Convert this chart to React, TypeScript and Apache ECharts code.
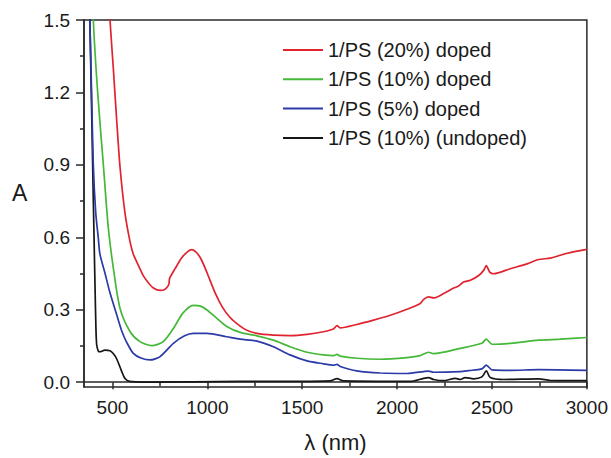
import React, { useEffect, useRef } from "react";
import * as echarts from "echarts";

const seriesNames = [
  "1/PS (20%) doped",
  "1/PS (10%) doped",
  "1/PS (5%) doped",
  "1/PS (10%) (undoped)",
];
const seriesColors = ["#e0232e", "#45b83a", "#2b3aa6", "#161616"];

const red: [number, number][] = [
  [470, 1.75], [487, 1.5], [505, 1.294], [522, 1.088], [540, 0.89], [566, 0.7],
  [593, 0.58], [610, 0.53], [636, 0.485], [663, 0.44], [689, 0.412], [716, 0.39],
  [751, 0.38], [775, 0.384], [790, 0.395], [798, 0.408], [801, 0.43], [830, 0.47],
  [865, 0.515], [895, 0.54], [918, 0.549], [945, 0.535], [970, 0.505], [1000, 0.45],
  [1041, 0.37], [1080, 0.31], [1120, 0.268], [1173, 0.232], [1208, 0.215], [1261, 0.202],
  [1348, 0.195], [1436, 0.193], [1525, 0.198], [1612, 0.209], [1665, 0.22], [1683, 0.234],
  [1700, 0.225], [1788, 0.239], [1876, 0.257], [1964, 0.277], [2052, 0.302], [2122, 0.326],
  [2140, 0.343], [2166, 0.353], [2192, 0.349], [2245, 0.367], [2298, 0.39], [2324, 0.398],
  [2350, 0.415], [2386, 0.422], [2430, 0.442], [2456, 0.463], [2470, 0.483], [2488, 0.456],
  [2509, 0.449], [2597, 0.47], [2685, 0.49], [2746, 0.508], [2808, 0.514], [2896, 0.534],
  [3000, 0.55],
];

const green: [number, number][] = [
  [390, 1.75], [399, 1.5], [422, 1.2], [452, 0.9], [478, 0.64], [505, 0.47],
  [540, 0.305], [593, 0.209], [645, 0.168], [707, 0.151], [768, 0.168], [821, 0.222],
  [870, 0.285], [926, 0.318], [960, 0.316], [1000, 0.298], [1050, 0.264], [1100, 0.232],
  [1173, 0.206], [1261, 0.192], [1348, 0.174], [1436, 0.147], [1525, 0.124], [1612, 0.113],
  [1665, 0.11], [1683, 0.115], [1700, 0.108], [1788, 0.099], [1911, 0.095], [2052, 0.102],
  [2122, 0.11], [2166, 0.124], [2192, 0.118], [2333, 0.14], [2447, 0.161], [2470, 0.178],
  [2500, 0.157], [2597, 0.161], [2746, 0.174], [2860, 0.178], [3000, 0.185],
];

const blue: [number, number][] = [
  [376, 1.8], [381, 1.5], [390, 1.2], [399, 0.9], [412, 0.7], [425, 0.6],
  [434, 0.53], [461, 0.45], [487, 0.37], [522, 0.28], [550, 0.21], [575, 0.165],
  [610, 0.119], [650, 0.1], [698, 0.092], [751, 0.106], [821, 0.161], [880, 0.192],
  [926, 0.202], [997, 0.202], [1102, 0.188], [1173, 0.178], [1261, 0.17], [1348, 0.147],
  [1436, 0.113], [1525, 0.088], [1612, 0.076], [1665, 0.07], [1683, 0.074], [1700, 0.065],
  [1788, 0.047], [1911, 0.038], [2052, 0.036], [2140, 0.044], [2166, 0.046], [2192, 0.041],
  [2333, 0.044], [2377, 0.048], [2447, 0.055], [2470, 0.071], [2500, 0.051], [2597, 0.049],
  [2746, 0.052], [3000, 0.049],
];

const black: [number, number][] = [
  [372, 1.8], [381, 1.5], [399, 0.758], [408, 0.4], [413, 0.22], [417, 0.154],
  [426, 0.128], [434, 0.126], [460, 0.133], [487, 0.13], [505, 0.118], [522, 0.097],
  [549, 0.044], [566, 0.015], [590, 0.003], [680, 0.0], [1173, 0.003], [1436, 0.003],
  [1647, 0.005], [1683, 0.015], [1717, 0.005], [2069, 0.003], [2140, 0.016], [2166, 0.019],
  [2192, 0.011], [2245, 0.006], [2307, 0.016], [2333, 0.011], [2359, 0.019], [2403, 0.014],
  [2447, 0.022], [2470, 0.047], [2491, 0.019], [2562, 0.011], [2746, 0.014], [2808, 0.007],
  [3000, 0.006],
];

const xMajorTicks = [500, 1000, 1500, 2000, 2500, 3000];
const xMinorTicks = [750, 1250, 1750, 2250, 2750];
const yMajorTicks = [0, 0.3, 0.6, 0.9, 1.2, 1.5];
const yMinorTicks = [0.15, 0.45, 0.75, 1.05, 1.35];

const FONT = "'Liberation Sans', Arial, sans-serif";
const AXIS_COLOR = "#2a2a2a";

export default function App() {
  const ref = useRef<HTMLDivElement>(null);
  useEffect(() => {
    if (!ref.current) return;
    const chart = echarts.init(ref.current, undefined, { renderer: "svg" });
    const allData = [red, green, blue, black];
    chart.setOption({
      animation: false,
      backgroundColor: "#ffffff",
      textStyle: { fontFamily: FONT },
      grid: {
        left: 84,
        right: 24,
        top: 20,
        bottom: 69,
        show: true,
        borderColor: AXIS_COLOR,
        borderWidth: 1.5,
        backgroundColor: "transparent",
      },
      legend: {
        orient: "vertical",
        left: 278,
        top: 35,
        icon: "rect",
        itemWidth: 40,
        itemHeight: 2,
        itemGap: 9.3,
        textStyle: { fontSize: 20, color: "#1a1a1a", fontFamily: FONT, lineHeight: 20 },
        data: seriesNames,
      },
      graphic: [
        {
          type: "text",
          left: 12,
          top: 181,
          style: { text: "A", fontSize: 23, fill: "#1a1a1a", font: `23px ${FONT}` },
        },
      ],
      xAxis: [
        {
          type: "value",
          position: "bottom",
          min: 350,
          max: 3000,
          name: "λ (nm)",
          nameLocation: "middle",
          nameGap: 44,
          nameTextStyle: { fontSize: 22, color: "#1a1a1a", fontFamily: FONT },
          axisLine: { show: true, lineStyle: { color: AXIS_COLOR, width: 1.5 } },
          axisTick: { show: true, length: 7, customValues: xMajorTicks, lineStyle: { color: AXIS_COLOR, width: 1.5 } },
          axisLabel: {
            customValues: xMajorTicks,
            fontSize: 19,
            color: "#1a1a1a",
            margin: 11,
            fontFamily: FONT,
            formatter: (v: number) => String(Math.round(v)),
          },
          splitLine: { show: false },
        },
        {
          type: "value",
          position: "bottom",
          min: 350,
          max: 3000,
          axisLine: { show: false },
          axisTick: { show: true, length: 4, customValues: xMinorTicks, lineStyle: { color: AXIS_COLOR, width: 1.5 } },
          axisLabel: { show: false },
          splitLine: { show: false },
        },
      ],
      yAxis: [
        {
          type: "value",
          position: "left",
          min: -0.02,
          max: 1.5,
          axisLine: { show: true, lineStyle: { color: AXIS_COLOR, width: 1.5 } },
          axisTick: { show: true, length: 8, customValues: yMajorTicks, lineStyle: { color: AXIS_COLOR, width: 1.5 } },
          axisLabel: {
            customValues: yMajorTicks,
            fontSize: 19,
            color: "#1a1a1a",
            margin: 14,
            fontFamily: FONT,
            formatter: (v: number) => (Math.abs(v) < 1e-9 ? "0.0" : v.toFixed(1)),
          },
          splitLine: { show: false },
        },
        {
          type: "value",
          position: "left",
          min: -0.02,
          max: 1.5,
          axisLine: { show: false },
          axisTick: { show: true, length: 4, customValues: yMinorTicks, lineStyle: { color: AXIS_COLOR, width: 1.5 } },
          axisLabel: { show: false },
          splitLine: { show: false },
        },
      ],
      series: seriesNames.map((name, i) => ({
        name,
        type: "line",
        xAxisIndex: 0,
        yAxisIndex: 0,
        data: allData[i],
        showSymbol: false,
        symbol: "none",
        smooth: 0.25,
        clip: true,
        color: seriesColors[i],
        lineStyle: { color: seriesColors[i], width: 1.7 },
        itemStyle: { color: seriesColors[i] },
        z: 10 - i,
      })),
    });
    return () => chart.dispose();
  }, []);
  return (
    <div
      ref={ref}
      style={{ position: "fixed", left: 0, top: 0, width: 611, height: 458, background: "#fff" }}
    />
  );
}
